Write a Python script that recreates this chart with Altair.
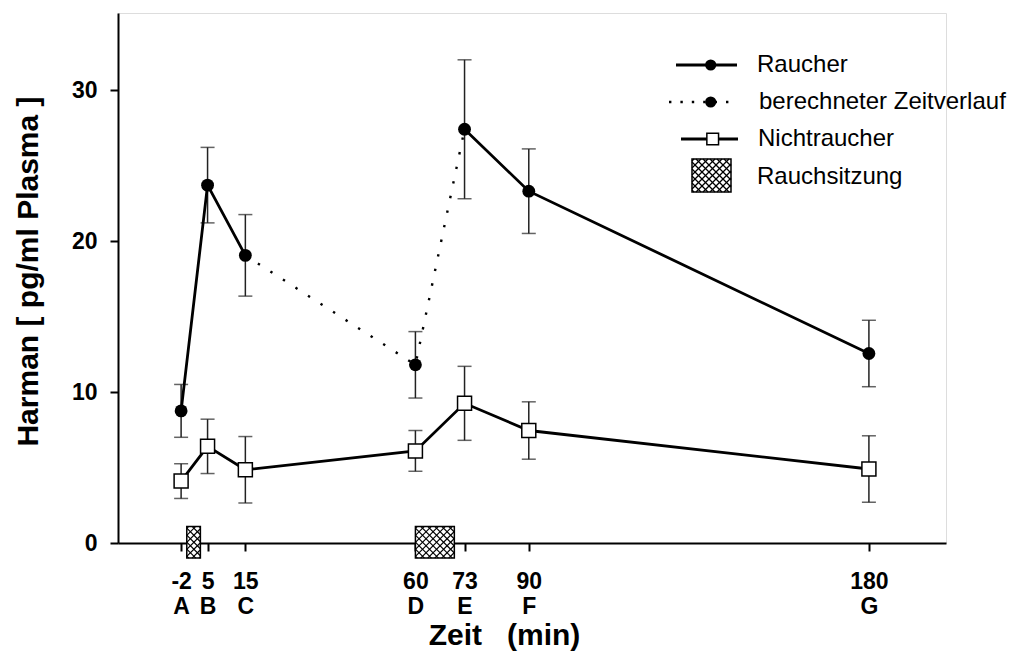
import altair as alt
import pandas as pd
import numpy as np

# ---------------- data ----------------
times = [-2, 5, 15, 60, 73, 90, 180]
time_text = ["-2", "5", "15", "60", "73", "90", "180"]
letters = ["A", "B", "C", "D", "E", "F", "G"]

raucher = [8.75, 23.7, 19.05, 11.8, 27.4, 23.3, 12.55]
raucher_err = [1.75, 2.5, 2.7, 2.2, 4.6, 2.8, 2.2]
nicht = [4.1, 6.4, 4.85, 6.1, 9.25, 7.45, 4.9]
nicht_err = [1.15, 1.8, 2.2, 1.35, 2.45, 1.9, 2.2]

# index groups of the smoker curve
solid_a = [0, 1, 2]
calc_part = [2, 3, 4]
solid_b = [4, 5, 6]

session_start = [-0.5, 60.0]
session_end = [3.1, 70.3]
session_low = -1.0
session_high = 1.1

y_ticks = [0, 10, 20, 30]
legend_labels = ["Raucher", "berechneter Zeitverlauf", "Nichtraucher", "Rauchsitzung"]

# ---------------- layout ----------------
X_MIN, X_MAX = -18.7, 200.4
Y_MIN, Y_MAX = 0.0, 35.1
W, H = 828, 530
FONT = "Liberation Sans"

def px(t):
    return (t - X_MIN) / (X_MAX - X_MIN) * W

def py(v):
    return H - (v - Y_MIN) / (Y_MAX - Y_MIN) * H

def hatch(x0, x1, y0, y1, step=7.0, phase=2.0):
    w, h = x1 - x0, y1 - y0
    rows = []
    for c in np.arange(-h + phase, w, step):
        u0, u1 = max(0.0, c), min(w, h + c)
        if u1 - u0 > 0.3:
            rows.append((x0 + u0, y0 + u0 - c, x0 + u1, y0 + u1 - c))
    for c in np.arange(phase, w + h, step):
        u0, u1 = max(0.0, c - h), min(w, c)
        if u1 - u0 > 0.3:
            rows.append((x0 + u0, y0 + c - u0, x0 + u1, y0 + c - u1))
    return rows

xs = alt.Scale(domain=[X_MIN, X_MAX], nice=False, zero=False)
ys = alt.Scale(domain=[Y_MIN, Y_MAX], nice=False, zero=False)

label_expr = ""
for t, a, b in zip(times, time_text, letters):
    label_expr += f"datum.value == {t} ? ['{a}', '{b}'] : "
label_expr += "''"

x_axis = alt.Axis(
    values=times, labelExpr=label_expr, labelFont=FONT, labelFontWeight="bold",
    labelFontSize=23, labelColor="black", labelLineHeight=25, labelPadding=19,
    labelOverlap=False, labelFlush=False, labelBound=False,
    tickSize=8, tickWidth=2, tickColor="black", domainColor="black", domainWidth=2,
    grid=False, title="Zeit\u00a0\u00a0\u00a0(min)", titleFont=FONT, titleFontSize=30,
    titleFontWeight="bold", titleColor="black", titleX=386, titleY=101,
    titleBaseline="alphabetic", titleAlign="center",
)
y_axis = alt.Axis(
    values=y_ticks, labelFont=FONT, labelFontWeight="bold", labelFontSize=23,
    labelColor="black", labelPadding=13, tickSize=8, tickWidth=2, tickColor="black",
    domainColor="black", domainWidth=2, grid=False,
    title="Harman [ pg/ml Plasma ]", titleFont=FONT, titleFontSize=30,
    titleFontWeight="bold", titleColor="black", titleX=-81, titleY=258,
    titleBaseline="alphabetic", titleAlign="center", titleAngle=270,
)

# ---------------- tables ----------------
df_r = pd.DataFrame({"t": times, "v": raucher, "e": raucher_err})
df_n = pd.DataFrame({"t": times, "v": nicht, "e": nicht_err})
err = pd.concat([df_r, df_n], ignore_index=True)
err["lo"] = err["v"] - err["e"]
err["hi"] = err["v"] + err["e"]

solid_rows = []
for seg, idx in (("a", solid_a), ("b", solid_b)):
    for i in idx:
        solid_rows.append({"t": times[i], "v": raucher[i], "seg": seg})
df_solid = pd.DataFrame(solid_rows)
df_calc = pd.DataFrame({"t": [times[i] for i in calc_part], "v": [raucher[i] for i in calc_part]})

df_sess = pd.DataFrame({"s": session_start, "e": session_end,
                        "lo": [session_low] * 2, "hi": [session_high] * 2})

hatch_rows = []
for s, e in zip(session_start, session_end):
    hatch_rows += hatch(px(s), px(e), py(session_high), py(session_low))
# legend box
LB = (574, 613, 146, 179)
hatch_rows += hatch(*LB)
df_hatch = pd.DataFrame(hatch_rows, columns=["x", "y", "x2", "y2"])

# ---------------- data layers ----------------
sess_fill = alt.Chart(df_sess).mark_rect(fill="white", stroke=None).encode(
    x=alt.X("s:Q", scale=xs, axis=x_axis), x2="e:Q",
    y=alt.Y("lo:Q", scale=ys, axis=y_axis), y2="hi:Q")

hatch_layer = alt.Chart(df_hatch).mark_rule(color="black", strokeWidth=1.2).encode(
    x=alt.X("x:Q", scale=None, axis=None), x2="x2:Q",
    y=alt.Y("y:Q", scale=None, axis=None), y2="y2:Q")

sess_outline = alt.Chart(df_sess).mark_rect(fill=None, stroke="black", strokeWidth=1.5).encode(
    x=alt.X("s:Q", scale=xs), x2="e:Q", y=alt.Y("lo:Q", scale=ys), y2="hi:Q")

err_rule = alt.Chart(err).mark_rule(color="#222", strokeWidth=1.5).encode(
    x=alt.X("t:Q", scale=xs), y=alt.Y("lo:Q", scale=ys), y2="hi:Q")
err_cap_lo = alt.Chart(err).mark_tick(color="#222", orient="horizontal", size=14, thickness=1.5).encode(
    x=alt.X("t:Q", scale=xs), y=alt.Y("lo:Q", scale=ys))
err_cap_hi = alt.Chart(err).mark_tick(color="#222", orient="horizontal", size=14, thickness=1.5).encode(
    x=alt.X("t:Q", scale=xs), y=alt.Y("hi:Q", scale=ys))

line_n = alt.Chart(df_n).mark_line(color="black", strokeWidth=2.8).encode(
    x=alt.X("t:Q", scale=xs), y=alt.Y("v:Q", scale=ys), order="t:Q")
line_r = alt.Chart(df_solid).mark_line(color="black", strokeWidth=2.8).encode(
    x=alt.X("t:Q", scale=xs), y=alt.Y("v:Q", scale=ys), detail="seg:N", order="t:Q")
line_calc = alt.Chart(df_calc).mark_line(color="black", strokeWidth=2.4, strokeDash=[2.4, 12.5]).encode(
    x=alt.X("t:Q", scale=xs), y=alt.Y("v:Q", scale=ys), order="t:Q")

pts_n = alt.Chart(df_n).mark_point(shape="square", filled=True, fill="white", stroke="black",
                                   strokeWidth=1.5, size=196, opacity=1).encode(
    x=alt.X("t:Q", scale=xs), y=alt.Y("v:Q", scale=ys))
pts_r = alt.Chart(df_r).mark_point(shape="circle", filled=True, color="black", size=165, opacity=1).encode(
    x=alt.X("t:Q", scale=xs), y=alt.Y("v:Q", scale=ys))

# ---------------- legend (pixel positions) ----------------
leg_solid = pd.DataFrame({"x": [558, 563], "x2": [619, 620], "y": [52, 126]})
leg_dot = pd.DataFrame({"x": [551], "x2": [619], "y": [89]})
leg_circ = pd.DataFrame({"x": [592.7, 592.7], "y": [52, 89]})
leg_sq = pd.DataFrame({"x": [594.7], "y": [126]})
leg_box = pd.DataFrame({"x": [LB[0]], "x2": [LB[1]], "y": [LB[2]], "y2": [LB[3]]})
leg_txt = pd.DataFrame({"x": [639, 641, 640, 639], "y": [52, 89, 126, 164], "label": legend_labels})

def PX(f):
    return alt.X(f, scale=None, axis=None)

def PY(f):
    return alt.Y(f, scale=None, axis=None)

l1 = alt.Chart(leg_solid).mark_rule(color="black", strokeWidth=2.8).encode(x=PX("x:Q"), x2="x2:Q", y=PY("y:Q"))
l2 = alt.Chart(leg_dot).mark_rule(color="black", strokeWidth=2.4, strokeDash=[2.4, 9]).encode(x=PX("x:Q"), x2="x2:Q", y=PY("y:Q"))
l3 = alt.Chart(leg_circ).mark_point(shape="circle", filled=True, color="black", size=125, opacity=1).encode(x=PX("x:Q"), y=PY("y:Q"))
l4 = alt.Chart(leg_sq).mark_point(shape="square", filled=True, fill="white", stroke="black",
                                  strokeWidth=1.5, size=137, opacity=1).encode(x=PX("x:Q"), y=PY("y:Q"))
l5 = alt.Chart(leg_box).mark_rect(fill=None, stroke="black", strokeWidth=1.5).encode(
    x=PX("x:Q"), x2="x2:Q", y=PY("y:Q"), y2="y2:Q")
l6 = alt.Chart(leg_txt).mark_text(align="left", baseline="middle", font=FONT, fontSize=24, color="black").encode(
    x=PX("x:Q"), y=PY("y:Q"), text="label:N")

chart = alt.layer(
    sess_fill, hatch_layer, sess_outline,
    err_rule, err_cap_lo, err_cap_hi,
    line_n, line_r, line_calc, pts_n, pts_r,
    l1, l2, l3, l4, l5, l6,
).properties(
    width=W, height=H,
    autosize=alt.AutoSizeParams(type="none"),
    padding={"left": 110, "top": 5, "right": 68, "bottom": 109},
).configure_view(stroke=None).configure(background="white")

chart.save("out.html", embed_options={"renderer": "svg", "actions": False})
